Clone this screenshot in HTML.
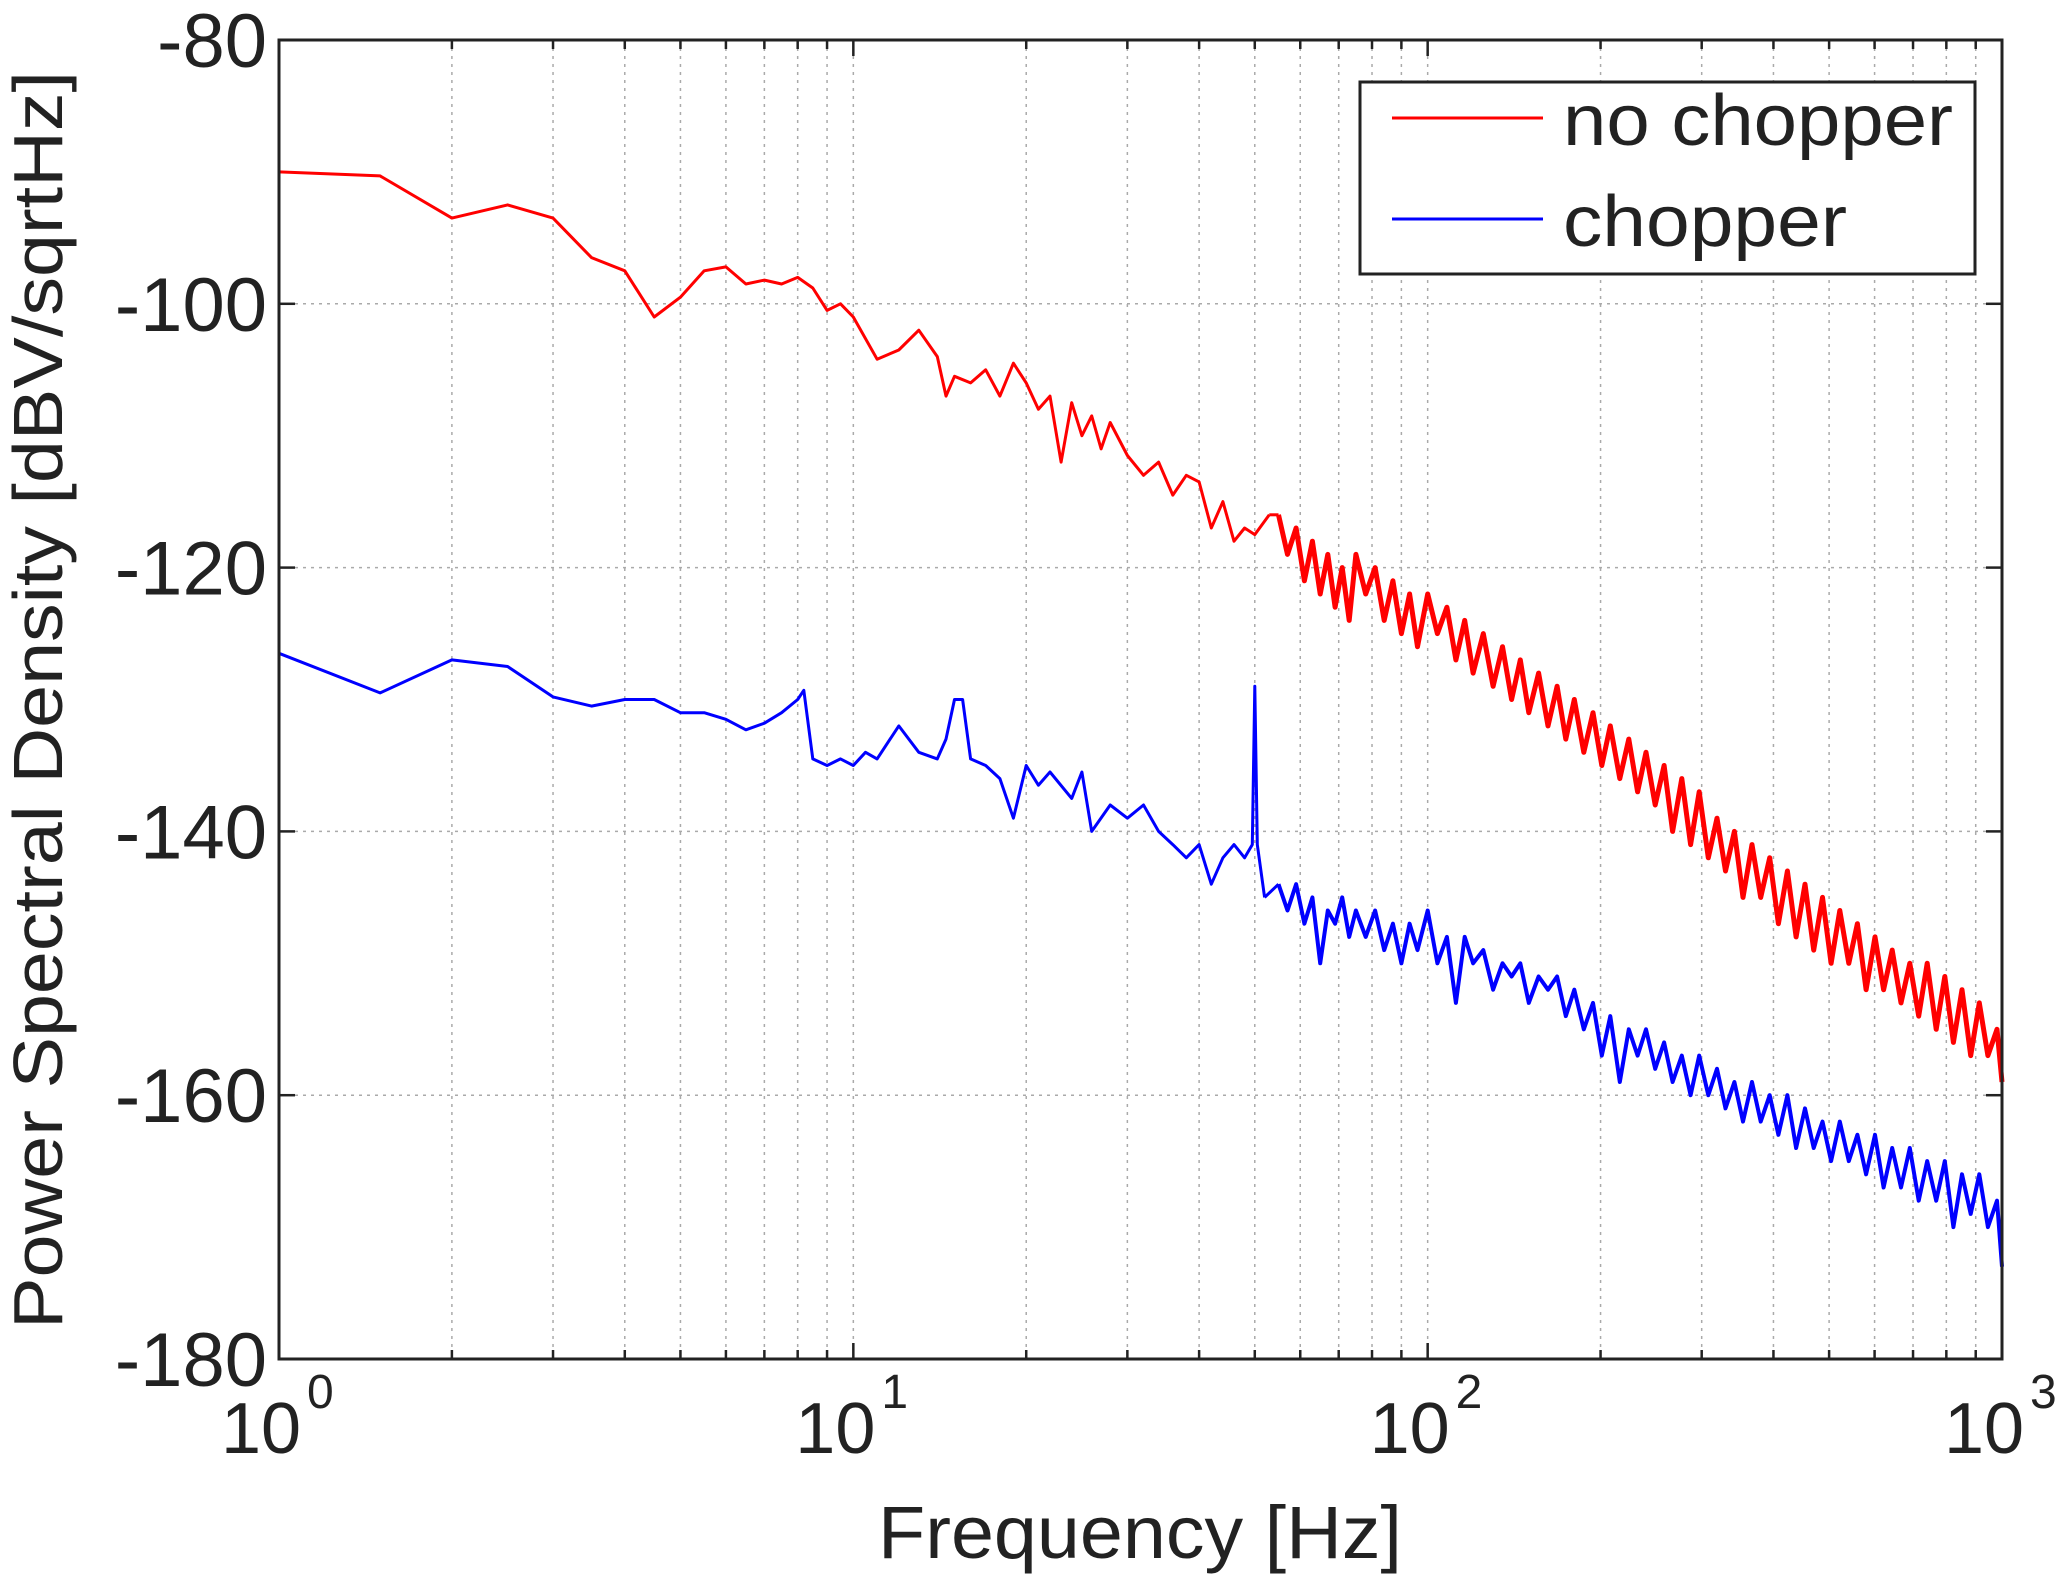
<!DOCTYPE html>
<html><head><meta charset="utf-8"><style>
html,body{margin:0;padding:0;background:#fff;}
svg{display:block;font-family:"Liberation Sans",Arial,sans-serif;}
</style></head><body>
<svg id="chart" width="2065" height="1583" viewBox="0 0 2065 1583" xmlns="http://www.w3.org/2000/svg">
<rect width="2065" height="1583" fill="#fff"/>
<g id="grid"></g>
<g id="series"></g>
<rect x="279" y="40" width="1723" height="1319" fill="none" stroke="#222" stroke-width="3"/>
<g id="ticks"></g>
<text x="1140" y="1558" font-size="74" text-anchor="middle" fill="#222" textLength="524" lengthAdjust="spacingAndGlyphs">Frequency [Hz]</text>
<text transform="translate(62,700) rotate(-90)" font-size="70" text-anchor="middle" fill="#222" textLength="1258" lengthAdjust="spacingAndGlyphs">Power Spectral Density [dBV/sqrtHz]</text>
<g>
<rect x="1360" y="82" width="615" height="192" fill="#fff" stroke="#222" stroke-width="3"/>
<line x1="1392" y1="118" x2="1543" y2="118" stroke="#f00" stroke-width="3"/>
<text x="1563" y="145" font-size="72" fill="#222" textLength="390" lengthAdjust="spacingAndGlyphs">no chopper</text>
<line x1="1392" y1="219" x2="1543" y2="219" stroke="#00f" stroke-width="3"/>
<text x="1563" y="246" font-size="72" fill="#222" textLength="284" lengthAdjust="spacingAndGlyphs">chopper</text>
</g>
</svg>
<script>
const lfFreqRed = [1,1.5,2,2.5,3,3.5,4,4.5,5,5.5,6,6.5,7,7.5,8,8.5,9,9.5,10,11,12,13,14,14.5,15,16,17,18,19,20,21,22,23,24,25,26,27,28,30,32,34,36,38,40,42,44,46,48,50,53];
const lfValRed = [-90,-90.3,-93.5,-92.5,-93.5,-96.5,-97.5,-101,-99.5,-97.5,-97.2,-98.5,-98.2,-98.5,-98,-98.8,-100.5,-100,-101,-104.2,-103.5,-102,-104,-107,-105.5,-106,-105,-107,-104.5,-106,-108,-107,-112,-107.5,-110,-108.5,-111,-109,-111.5,-113,-112,-114.5,-113,-113.5,-117,-115,-118,-117,-117.5,-116];
const lfFreqBlue = [1,1.5,2,2.5,3,3.5,4,4.5,5,5.5,6,6.5,7,7.5,8,8.2,8.5,9,9.5,10,10.5,11,12,13,14,14.5,15,15.5,16,17,18,19,20,21,22,24,25,26,28,30,32,34,36,38,40,42,44,46,48,49.5,50,50.5,52];
const lfValBlue = [-126.5,-129.5,-127,-127.5,-129.8,-130.5,-130,-130,-131,-131,-131.5,-132.3,-131.8,-131,-130,-129.3,-134.5,-135,-134.5,-135,-134,-134.5,-132,-134,-134.5,-133,-130,-130,-134.5,-135,-136,-139,-135,-136.5,-135.5,-137.5,-135.5,-140,-138,-139,-138,-140,-141,-142,-141,-144,-142,-141,-142,-141,-129,-141,-145];
const hfFreq = [55,57,59,61,63,65,67,69,71,73,75,78,81,84,87,90,93,96,100,104,108,112,116,120,125,130,135,140,145,150,156,162,168,174,180,187,194,201,208,216,224,232,240,249,258,267,277,287,297,308,319,330,342,354,367,380,394,408,423,438,454,470,487,504,522,541,560,580,601,622,644,667,691,716,741,768,795,823,852,882,913,945,980,1000];
const hfValRed = [-116,-119,-117,-121,-118,-122,-119,-123,-120,-124,-119,-122,-120,-124,-121,-125,-122,-126,-122,-125,-123,-127,-124,-128,-125,-129,-126,-130,-127,-131,-128,-132,-129,-133,-130,-134,-131,-135,-132,-136,-133,-137,-134,-138,-135,-140,-136,-141,-137,-142,-139,-143,-140,-145,-141,-145,-142,-147,-143,-148,-144,-149,-145,-150,-146,-150,-147,-152,-148,-152,-149,-153,-150,-154,-150,-155,-151,-156,-152,-157,-153,-157,-155,-159];
const hfValBlue = [-144,-146,-144,-147,-145,-150,-146,-147,-145,-148,-146,-148,-146,-149,-147,-150,-147,-149,-146,-150,-148,-153,-148,-150,-149,-152,-150,-151,-150,-153,-151,-152,-151,-154,-152,-155,-153,-157,-154,-159,-155,-157,-155,-158,-156,-159,-157,-160,-157,-160,-158,-161,-159,-162,-159,-162,-160,-163,-160,-164,-161,-164,-162,-165,-162,-165,-163,-166,-163,-167,-164,-167,-164,-168,-165,-168,-165,-170,-166,-169,-166,-170,-168,-173];
const yTicks = [-80,-100,-120,-140,-160,-180];
const xDecades = [0,1,2,3];

const X0=279,X1=2002,Y0=40,Y1=1359;
const xs = f => X0 + Math.log10(f)/3*(X1-X0);
const ys = v => Y0 + (-80 - v)/100*(Y1-Y0);
const NS='http://www.w3.org/2000/svg';
const grid=document.getElementById('grid'), ticks=document.getElementById('ticks'), series=document.getElementById('series');
function mk(tag,attrs,parent){const e=document.createElementNS(NS,tag);for(const k in attrs)e.setAttribute(k,attrs[k]);parent.appendChild(e);return e;}

for(let d=0; d<3; d++){
  for(let m=1;m<=9;m++){
    const f=Math.pow(10,d)*m; if(m===1&&d===0) continue;
    const x=xs(f);
    const g=mk('line',{x1:x,y1:Y0,x2:x,y2:Y1,stroke:'#aaa','stroke-width':1.5,'stroke-dasharray':'3 5'},grid);
    
    
    const t1=mk('line',{x1:x,y1:Y1,x2:x,y2:Y1-(m===1?16:9),stroke:'#222','stroke-width':2.5},ticks);
    
    
    const t2=mk('line',{x1:x,y1:Y0,x2:x,y2:Y0+(m===1?16:9),stroke:'#222','stroke-width':2.5},ticks);
    
    
  }
}
yTicks.forEach(v=>{
  const y=ys(v);
  if(v<-80&&v>-180){
    const g=mk('line',{x1:X0,y1:y,x2:X1,y2:y,stroke:'#aaa','stroke-width':1.5,'stroke-dasharray':'3 5'},grid);
    
    
  }
  const t=mk('line',{x1:X0,y1:y,x2:X0+16,y2:y,stroke:'#222','stroke-width':2.5},ticks);
  
  
  const t2=mk('line',{x1:X1,y1:y,x2:X1-16,y2:y,stroke:'#222','stroke-width':2.5},ticks);
  
  
  const l=mk('text',{x:X0-12,y:y+27,'font-size':76,'text-anchor':'end',fill:'#222'},ticks);
  l.textContent=String(v);
  
  
});
xDecades.forEach(d=>{
  const x=xs(Math.pow(10,d));
  const l=mk('text',{x:x-18,y:1453,'font-size':72,'text-anchor':'middle',fill:'#222'},ticks);
  l.textContent='10';
  
  
  const e=mk('text',{x:x+28,y:1408,'font-size':48,'text-anchor':'start',fill:'#222'},ticks);
  e.textContent=String(d);
  
  
});
function path(fr,vals,color,name,w){
  const d=fr.map((f,i)=>(i?'L':'M')+xs(f).toFixed(1)+' '+ys(vals[i]).toFixed(1)).join(' ');
  const p=mk('path',{d:d,fill:'none',stroke:color,'stroke-width':w,'stroke-linejoin':'round'},series);
  
  
}
path(lfFreqRed,lfValRed,'#f00','series-no-chopper-low',3);
path(hfFreq,hfValRed,'#f00','series-no-chopper-high',5);
path([lfFreqRed[lfFreqRed.length-1],hfFreq[0]],[lfValRed[lfValRed.length-1],hfValRed[0]],'#f00','series-no-chopper-join',3);
path(lfFreqBlue,lfValBlue,'#00f','series-chopper-low',3);
path(hfFreq,hfValBlue,'#00f','series-chopper-high',4);
path([lfFreqBlue[lfFreqBlue.length-1],hfFreq[0]],[lfValBlue[lfValBlue.length-1],hfValBlue[0]],'#00f','series-chopper-join',3);
</script>
</body></html>
